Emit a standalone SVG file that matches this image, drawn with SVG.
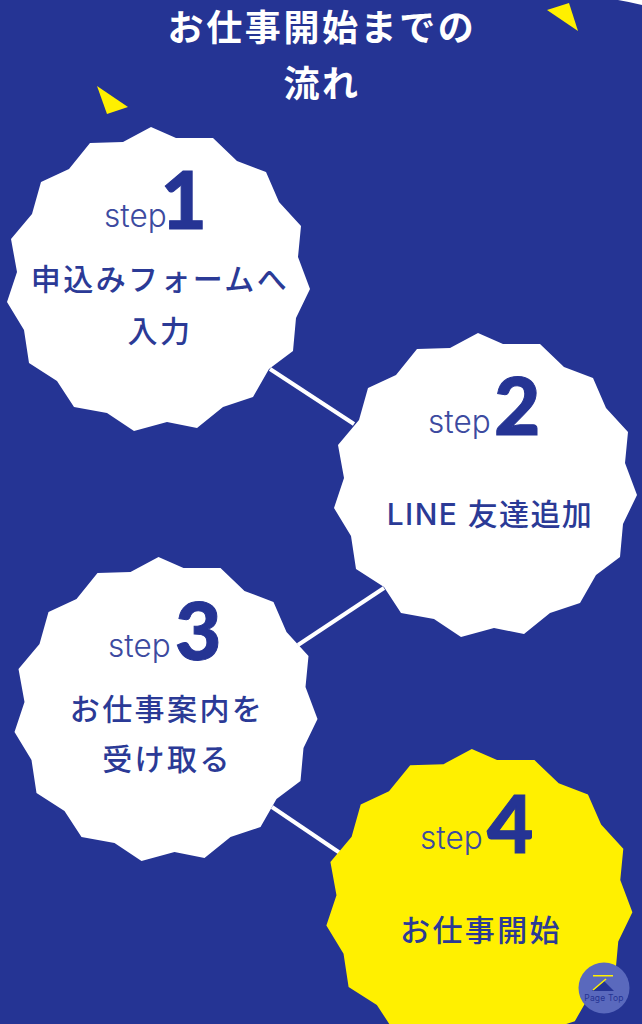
<svg xmlns="http://www.w3.org/2000/svg" width="642" height="1024" viewBox="0 0 642 1024">
<style>
.bg{fill:#253494}
.y{fill:#fff000}
.w{fill:#fff}
.title{font-family:"Noto Sans CJK JP","Noto Sans",sans-serif;font-weight:700;font-size:36px;letter-spacing:2.6px;fill:#fff;text-anchor:middle}
.step{font-family:"Inter","Noto Sans",sans-serif;font-weight:300;font-size:31.5px;fill:#3c4aa0}
.num{font-family:"Lato","Noto Sans",sans-serif;font-weight:900;font-size:80px;fill:#253494;stroke:#253494;stroke-width:1px}
.body{font-family:"Inter","Noto Sans CJK JP",sans-serif;font-weight:500;font-size:30px;letter-spacing:2.4px;fill:#2b3a96;text-anchor:middle}
.link{stroke:#fff;stroke-width:4;fill:none}
</style>
<defs>
<polygon id="star" points="151,127 176,138 213,138 237,161 266,172 279,202 301,226 298,257 310,289 296,318 293,351 269,369 253,397 223,407 197,428 167,422 134,431 107,413 74,407 57,381 29,363 24,330 7,302 17,272 11,239 32,214 41,182 69,169 90,143 123,142"/>
</defs>
<rect class="bg" width="642" height="1024"/>
<path class="w" d="M618 0H642V5Q630 2 618 0Z"/>
<polygon class="y" points="547,10 569,3 578,31"/>
<polygon class="y" points="97,86 128,107 107,114"/>
<g id="title">
<text class="title" x="322" y="41">お仕事開始までの</text>
<text class="title" x="322" y="97">流れ</text>
</g>
<g id="connectors">
<line class="link" x1="270" y1="369" x2="354" y2="424"/>
<line class="link" x1="384" y1="588" x2="298" y2="645"/>
<line class="link" x1="272" y1="807" x2="340" y2="853"/>
</g>
<g id="step1">
<use href="#star" class="w"/>
<text class="step" x="104" y="227">step</text>
<text class="num" x="160.5" y="229">1</text>
<text class="body" x="160" y="290">申込みフォームへ</text>
<text class="body" x="160" y="342">入力</text>
</g>
<g id="step2">
<use href="#star" class="w" x="327" y="206"/>
<text class="step" x="428" y="433">step</text>
<text class="num" x="494" y="435">2</text>
<text class="body" x="490" y="525" style="letter-spacing:1.4px">LINE 友達追加</text>
</g>
<g id="step3">
<use href="#star" class="w" x="7.5" y="430"/>
<text class="step" x="108" y="657">step</text>
<text class="num" x="175" y="660">3</text>
<text class="body" x="167" y="720">お仕事案内を</text>
<text class="body" x="167" y="770">受け取る</text>
</g>
<g id="step4">
<use href="#star" class="y" transform="translate(319.3 621) scale(1.01 1.008)"/>
<text class="step" x="420" y="849">step</text>
<text class="num" x="487" y="853">4</text>
<text class="body" x="481" y="941">お仕事開始</text>
</g>
<g id="pagetop">
<circle cx="604" cy="988" r="25.5" fill="#5a69bd"/>
<rect x="593" y="975" width="20" height="1.5" fill="#fff000"/>
<polygon points="592,991 604,981 614,991" fill="#253494"/>
<line x1="593" y1="990" x2="606" y2="979" stroke="#fff000" stroke-width="1.5"/>
<text x="604" y="1001" font-family="Inter,'Noto Sans',sans-serif" font-size="8.5" fill="#253494" text-anchor="middle" letter-spacing=".2">Page Top</text>
</g>
</svg>
